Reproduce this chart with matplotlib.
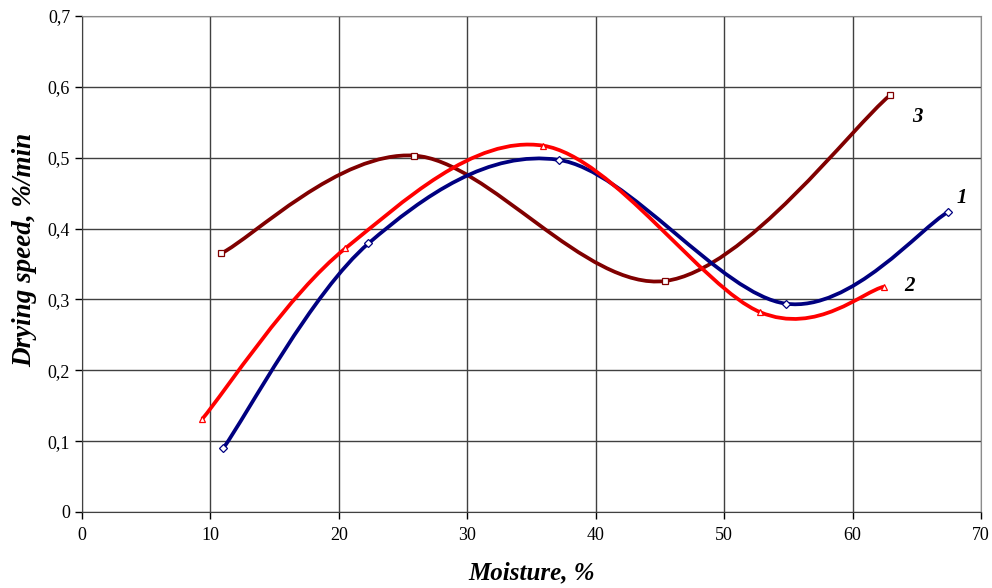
import matplotlib
matplotlib.use("Agg")
from matplotlib import pyplot as plt
from matplotlib.path import Path
from matplotlib.patches import PathPatch
from matplotlib.ticker import FuncFormatter
import numpy as np

# curve 1 (blue, diamonds)
x1 = [11.0, 22.3, 37.1, 54.8, 67.4]
y1 = [0.090, 0.379, 0.497, 0.294, 0.423]
# curve 2 (red, triangles)
x2 = [9.35, 20.5, 35.9, 52.8, 62.45]
y2 = [0.131, 0.372, 0.517, 0.282, 0.318]
# curve 3 (dark red, squares)
x3 = [10.85, 25.85, 45.4, 62.9]
y3 = [0.365, 0.503, 0.326, 0.588]


def smooth_path(xs, ys):
    # Excel-like smoothed line: cubic Bezier segments through the points
    p = np.column_stack([xs, ys])
    ext = np.vstack([p[0], p, p[-1]])
    verts = [p[0]]
    codes = [Path.MOVETO]
    for i in range(len(p) - 1):
        c1 = ext[i + 1] + (ext[i + 2] - ext[i]) / 6
        c2 = ext[i + 2] - (ext[i + 3] - ext[i + 1]) / 6
        verts += [c1, c2, ext[i + 2]]
        codes += [Path.CURVE4] * 3
    return Path(verts, codes)


def fmt(v, pos):
    if abs(v) < 1e-9:
        return '0'
    return f"{v:.1f}".replace('.', ',')


plt.rcParams['font.family'] = ['Liberation Serif', 'DejaVu Serif']

fig = plt.figure(figsize=(9.92, 5.88), dpi=100)
ax = fig.add_axes([0.0827, 0.1293, 0.9063, 0.8435])

series = [
    (x3, y3, '#800000', 's', 5),
    (x1, y1, '#000080', 'D', 4),
    (x2, y2, '#ff0000', '^', 5),
]
for xs, ys, col, mk, ms in series:
    ax.add_patch(PathPatch(smooth_path(xs, ys), fill=False, edgecolor=col,
                           lw=2.7, capstyle='butt', zorder=3))
    ax.plot(xs, ys, linestyle='none', marker=mk, ms=ms, mfc='white',
            mec=col, mew=0.9, zorder=4)

ax.text(68.1, 0.436, '1', fontsize=15, fontweight='bold', style='italic')
ax.text(64.0, 0.312, '2', fontsize=15, fontweight='bold', style='italic')
ax.text(64.65, 0.551, '3', fontsize=15, fontweight='bold', style='italic')

ax.set_xlim(0, 70)
ax.set_ylim(0, 0.7)
ax.set_xticks(np.arange(0, 71, 10))
ax.set_yticks(np.arange(0, 0.71, 0.1))
ax.yaxis.set_major_formatter(FuncFormatter(fmt))
ax.tick_params(direction='out', length=5, width=1, labelsize=13, colors='black')
ax.tick_params(axis='x', pad=6)
ax.grid(True, color='#404040', lw=1)
ax.set_axisbelow(True)
for s in ['top', 'right']:
    ax.spines[s].set_color('#8c8c8c')
for s in ['left', 'bottom']:
    ax.spines[s].set_color('#404040')

ax.set_xlabel('Moisture, %', fontsize=18, fontweight='bold', style='italic', labelpad=12)
ax.set_ylabel('Drying speed, %/min', fontsize=19.5, fontweight='bold', style='italic')
ax.yaxis.set_label_coords(-0.050, 0.528)

fig.savefig('out.png', dpi=100)
